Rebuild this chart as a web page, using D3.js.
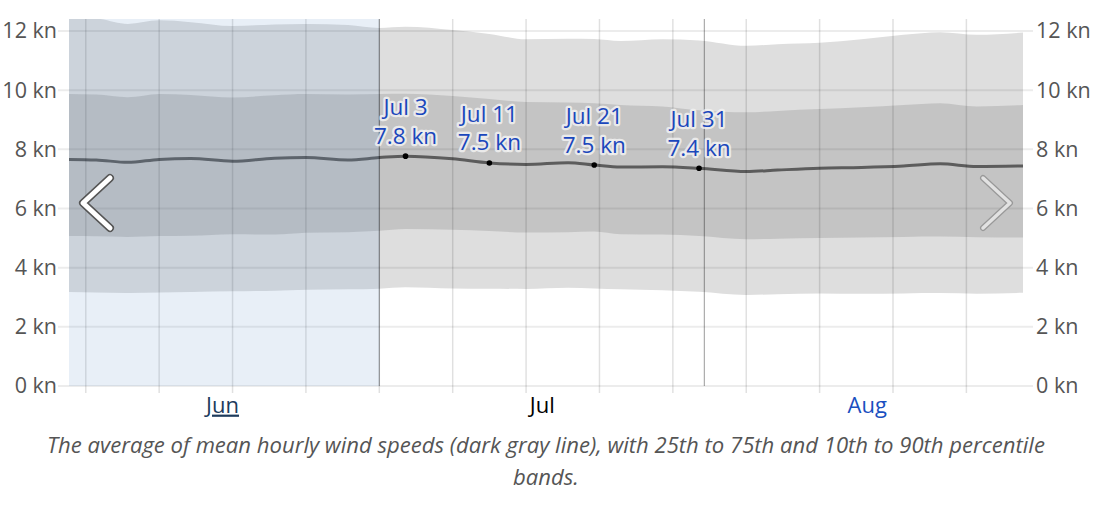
<!DOCTYPE html>
<html>
<head>
<meta charset="utf-8">
<script src="https://cdn.jsdelivr.net/npm/d3@7"></script>
<style>
  body { margin: 0; background: #fff; }
  svg text { font-family: "Open Sans", "Noto Sans", sans-serif; }
</style>
</head>
<body>
<div id="chart"></div>
<script>

// days counted from Jun 1 (0 = Jun 1 00:00)
var days  = [0, 3, 6, 9, 12, 16, 20, 23, 27, 30, 32.5, 37, 40.5, 44, 48, 50.5, 53, 57, 60.5, 65, 68, 72, 76, 80, 83.5, 87, 91.5];
var mean  = [7.66, 7.64, 7.56, 7.66, 7.69, 7.60, 7.70, 7.72, 7.64, 7.72, 7.77, 7.68, 7.54, 7.49, 7.55, 7.47, 7.40, 7.41, 7.36, 7.25, 7.30, 7.36, 7.39, 7.44, 7.51, 7.42, 7.44];
var p90   = [12.45, 12.42, 12.24, 12.36, 12.3, 12.17, 12.22, 12.24, 12.2, 12.1, 12.14, 12.03, 11.9, 11.72, 11.74, 11.73, 11.66, 11.72, 11.68, 11.5, 11.55, 11.6, 11.72, 11.87, 11.96, 11.87, 11.95];
var p75   = [9.87, 9.85, 9.76, 9.87, 9.84, 9.75, 9.83, 9.87, 9.85, 9.87, 9.88, 9.8, 9.7, 9.6, 9.58, 9.56, 9.5, 9.45, 9.32, 9.25, 9.3, 9.36, 9.42, 9.5, 9.56, 9.45, 9.5];
var p25   = [5.07, 5.06, 5.04, 5.07, 5.08, 5.13, 5.12, 5.18, 5.2, 5.25, 5.31, 5.28, 5.24, 5.19, 5.2, 5.22, 5.13, 5.12, 5.07, 4.96, 4.98, 5.0, 5.02, 5.04, 5.05, 5.03, 5.02];
var p10   = [3.18, 3.16, 3.14, 3.16, 3.18, 3.2, 3.22, 3.25, 3.27, 3.29, 3.34, 3.3, 3.29, 3.28, 3.32, 3.3, 3.27, 3.24, 3.19, 3.08, 3.1, 3.13, 3.12, 3.13, 3.14, 3.12, 3.15];

var yTicks = [0, 2, 4, 6, 8, 10, 12];
var weekTicks = [2, 9, 16, 23, 30, 37, 44, 51, 58, 65, 72, 79, 86];
var monthStarts = [30, 61];
var monthNames = ["Jun", "Jul", "Aug"];
var monthMids = [15, 45.5, 76.5];

var annDays   = [32.5, 40.5, 50.5, 60.5];
var annDates  = ["Jul 3", "Jul 11", "Jul 21", "Jul 31"];
var annValues = ["7.8 kn", "7.5 kn", "7.5 kn", "7.4 kn"];

var highlight = [0, 30]; // June

var width = 1093, height = 508;
var plot = {left: 69, right: 1023, top: 19, bottom: 386};

var x = d3.scaleLinear().domain([0.4, 91.4]).range([plot.left, plot.right]);
var y = d3.scaleLinear().domain([0, 12]).range([386, 31]);

var svg = d3.select("#chart").append("svg")
    .attr("width", width)
    .attr("height", height);

svg.append("clipPath").attr("id", "plotclip")
  .append("rect")
    .attr("x", plot.left).attr("y", plot.top)
    .attr("width", plot.right - plot.left)
    .attr("height", plot.bottom - plot.top);

var data = days.map(function(d, i) {
  return {day: d, mean: mean[i], p10: p10[i], p25: p25[i], p75: p75[i], p90: p90[i]};
});

var g = svg.append("g").attr("clip-path", "url(#plotclip)");

var outer = d3.area()
    .x(function(d) { return x(d.day); })
    .y0(function(d) { return y(d.p10); })
    .y1(function(d) { return y(d.p90); })
    .curve(d3.curveMonotoneX);

var inner = d3.area()
    .x(function(d) { return x(d.day); })
    .y0(function(d) { return y(d.p25); })
    .y1(function(d) { return y(d.p75); })
    .curve(d3.curveMonotoneX);

g.append("path").datum(data).attr("d", outer).attr("fill", "#dedede");
g.append("path").datum(data).attr("d", inner).attr("fill", "#c4c4c4");

// horizontal gridlines
svg.append("g").selectAll("line")
    .data(yTicks)
  .enter().append("line")
    .attr("x1", 58).attr("x2", 1033)
    .attr("y1", function(d) { return y(d); })
    .attr("y2", function(d) { return y(d); })
    .attr("stroke", "rgba(0,0,0,0.075)")
    .attr("stroke-width", 2);

// weekly gridlines
svg.append("g").selectAll("line")
    .data(weekTicks)
  .enter().append("line")
    .attr("x1", function(d) { return x(d); })
    .attr("x2", function(d) { return x(d); })
    .attr("y1", plot.top).attr("y2", 393)
    .attr("stroke", "rgba(0,0,0,0.12)")
    .attr("stroke-width", 1.5);

// month boundaries
svg.append("g").selectAll("line")
    .data(monthStarts)
  .enter().append("line")
    .attr("x1", function(d) { return x(d); })
    .attr("x2", function(d) { return x(d); })
    .attr("y1", plot.top).attr("y2", plot.bottom)
    .attr("stroke", "rgba(0,0,0,0.4)")
    .attr("stroke-width", 1);

var line = d3.line()
    .x(function(d) { return x(d.day); })
    .y(function(d) { return y(d.mean); })
    .curve(d3.curveMonotoneX);

g.append("path").datum(data)
    .attr("d", line)
    .attr("fill", "none")
    .attr("stroke", "#5c5c5c")
    .attr("stroke-width", 3);

// highlighted month
svg.append("rect")
    .attr("x", x(Math.max(highlight[0], 0.4)))
    .attr("y", plot.top)
    .attr("width", x(highlight[1]) - x(Math.max(highlight[0], 0.4)))
    .attr("height", plot.bottom - plot.top)
    .attr("fill", "rgb(101,148,202)")
    .attr("opacity", 0.15);

// y axes
var yLeft = d3.axisLeft(y).tickValues(yTicks).tickSize(0).tickPadding(1)
    .tickFormat(function(d) { return d + " kn"; });
var yRight = d3.axisRight(y).tickValues(yTicks).tickSize(0).tickPadding(3)
    .tickFormat(function(d) { return d + " kn"; });

svg.append("g").attr("transform", "translate(58,0)").call(yLeft);
svg.append("g").attr("transform", "translate(1033,0)").call(yRight);

svg.selectAll(".domain").remove();
svg.selectAll(".tick text")
    .style("font-size", "21.5px")
    .attr("fill", "#555");

// month labels
var xAxis = d3.axisBottom(x).tickValues(monthMids).tickSize(0).tickPadding(11)
    .tickFormat(function(d, i) { return monthNames[i]; });
var xg = svg.append("g").attr("transform", "translate(0,386)").call(xAxis);
xg.select(".domain").remove();
xg.selectAll(".tick text")
    .style("font-size", "22px")
    .attr("fill", function(d, i) { return ["#1d3b5c", "#000", "#1a4fc0"][i]; })
    .style("text-decoration", function(d, i) { return i === 0 ? "underline" : "none"; });

// annotations
var ann = svg.append("g").selectAll("g")
    .data(annDays)
  .enter().append("g");

ann.append("circle")
    .attr("cx", function(d) { return x(d); })
    .attr("cy", function(d) { return y(mean[days.indexOf(d)]); })
    .attr("r", 2.8)
    .attr("fill", "#000");

function annText(row, dyOff) {
  ann.append("text")
      .attr("x", function(d) { return x(d); })
      .attr("y", function(d) { return y(mean[days.indexOf(d)]) + dyOff; })
      .attr("text-anchor", "middle")
      .style("font-size", "22.5px")
      .attr("fill", "#1a47bc")
      .attr("stroke", "rgba(245,245,245,0.8)")
      .attr("stroke-width", 4.5)
      .attr("stroke-linejoin", "round")
      .attr("paint-order", "stroke")
      .text(function(d, i) { return row[i]; });
}
annText(annDates, -41);
annText(annValues, -12.5);

// navigation arrows
svg.append("path")
    .attr("d", "M110,178 L83,203 L110,228")
    .attr("fill", "none").attr("stroke", "#555").attr("stroke-width", 8)
    .attr("stroke-linecap", "round").attr("stroke-linejoin", "round");
svg.append("path")
    .attr("d", "M110,178 L83,203 L110,228")
    .attr("fill", "none").attr("stroke", "#fff").attr("stroke-width", 5)
    .attr("stroke-linecap", "round").attr("stroke-linejoin", "round");

svg.append("path")
    .attr("d", "M983,178 L1010,203 L983,228")
    .attr("fill", "none").attr("stroke", "#999").attr("stroke-width", 6)
    .attr("stroke-linecap", "round").attr("stroke-linejoin", "round");
svg.append("path")
    .attr("d", "M983,178 L1010,203 L983,228")
    .attr("fill", "none").attr("stroke", "#e2e2e2").attr("stroke-width", 3.5)
    .attr("stroke-linecap", "round").attr("stroke-linejoin", "round");

// caption, sized so the first line spans about 998px like the original
var caption = ["The average of mean hourly wind speeds (dark gray line), with 25th to 75th and 10th to 90th percentile", "bands."];
var capText = svg.append("g").selectAll("text")
    .data(caption)
  .enter().append("text")
    .attr("x", 546)
    .attr("y", function(d, i) { return 453 + i * 32; })
    .attr("text-anchor", "middle")
    .style("font-size", "19px")
    .style("font-style", "italic")
    .attr("fill", "#555")
    .text(function(d) { return d; });

var capLen = capText.node().getComputedTextLength();
var capSize = Math.min(23, 19 * 998 / capLen);
capText.style("font-size", capSize + "px");

</script>
</body>
</html>
